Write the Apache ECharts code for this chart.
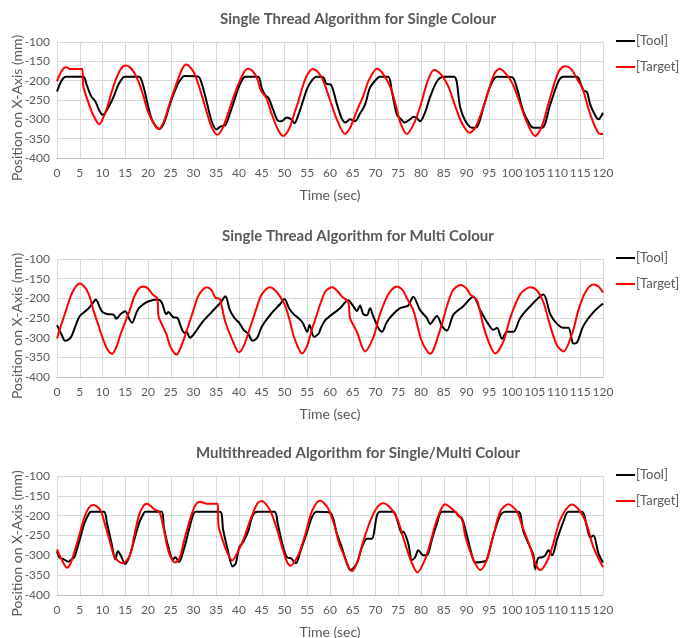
<!DOCTYPE html>
<html>
<head>
<meta charset="utf-8">
<script src="https://cdn.jsdelivr.net/npm/echarts@6/dist/echarts.min.js"></script>
<style>
  html, body { margin: 0; padding: 0; background: #fff; }
  #chart { width: 680px; height: 638px; }
</style>
</head>
<body>
<div id="chart"></div>
<script>
// panel titles
const titles = [
  'Single Thread Algorithm for Single Colour',
  'Single Thread Algorithm for Multi Colour',
  'Multithreaded Algorithm for Single/Multi Colour'
];

// [time (sec), position (mm)]
const p1Tool = [[0,-228],[1,-200],[2,-190],[5.8,-190],[6.5,-210],[7.5,-240],[8.5,-255],[9.2,-275],[10,-288],[10.5,-285],[11.5,-265],[12.5,-240],[13.5,-210],[14.5,-192],[15,-190],[18,-190],[19,-215],[20,-265],[21,-305],[22.5,-325],[23.5,-310],[25,-255],[26.5,-210],[27.5,-192],[28,-188],[31,-189],[32,-215],[33,-260],[34,-305],[35,-326],[36,-318],[37,-315],[38,-285],[39,-250],[40,-215],[41,-192],[41.5,-190],[44.2,-190],[45,-220],[45.8,-238],[46.5,-245],[47.5,-275],[48.5,-303],[49.3,-305],[50.5,-295],[51.5,-300],[52.2,-310],[53,-290],[54,-255],[55,-220],[56,-200],[57,-190],[58.5,-191],[59.2,-208],[60.2,-210],[61.5,-260],[62.6,-298],[63.4,-308],[64.4,-300],[65.5,-305],[66.6,-285],[67.7,-262],[68.8,-218],[70.3,-195],[71,-190],[72.8,-190],[73.6,-228],[74.7,-288],[75.8,-302],[76.3,-308],[77.6,-300],[78.3,-293],[79.1,-297],[79.8,-305],[80.9,-282],[82,-242],[83.5,-202],[85,-190],[87.3,-190],[88.6,-268],[89.7,-303],[91.2,-322],[92.3,-320],[93.7,-270],[95.2,-215],[96.7,-190],[100,-191],[101.1,-220],[102.5,-280],[104,-315],[104.7,-322],[106.6,-322],[108.4,-262],[110.2,-202],[111.3,-190],[114.3,-190],[115,-205],[115.7,-225],[116.5,-230],[117.2,-262],[118.3,-290],[119,-300],[120,-283]];
const p1Target = [[0,-202],[1,-175],[2,-165],[3,-170],[5.5,-170],[5.8,-215],[7,-260],[8,-290],[9.3,-313],[10,-300],[11,-270],[12,-230],[13,-195],[14,-170],[15,-161],[16,-165],[17,-180],[18,-205],[19,-240],[20,-280],[21.5,-315],[22.3,-325],[23.5,-305],[25,-250],[26.5,-200],[27.5,-170],[28.3,-158],[29.5,-168],[30.5,-190],[32,-245],[33,-285],[34,-320],[35.2,-340],[36.5,-320],[38,-270],[39.5,-220],[41,-180],[42,-169],[43,-175],[44,-195],[44.8,-225],[46,-245],[47,-280],[48.5,-325],[49.7,-343],[51,-325],[52,-290],[53,-255],[54,-215],[55,-185],[56.2,-170],[57.5,-180],[58.5,-200],[60,-250],[61.5,-300],[63.3,-338],[64.5,-320],[66,-275],[67.3,-240],[68.5,-200],[70.3,-169],[71.5,-180],[73.2,-215],[74.5,-265],[75.5,-310],[76.9,-338],[78.5,-310],[80,-260],[81.5,-200],[82.9,-172],[84.5,-185],[86,-215],[87.5,-265],[89,-310],[90.7,-335],[92,-320],[93.5,-275],[95,-220],[96.2,-180],[97.3,-169],[98.5,-180],[100,-205],[101.5,-250],[103,-300],[105.1,-343],[106.5,-320],[108,-260],[109.5,-200],[110.5,-172],[111.7,-163],[113,-170],[114.5,-200],[115.5,-220],[117,-280],[118.5,-325],[119.4,-338],[120,-338]];

const p2Tool = [[0,-268],[1,-292],[1.8,-308],[3,-300],[4,-272],[5,-245],[6,-235],[7,-225],[8,-210],[8.5,-203],[9.5,-225],[10,-235],[11,-240],[12.5,-242],[13,-252],[14,-240],[15,-233],[16,-255],[16.5,-262],[17.5,-235],[18,-225],[19,-215],[20,-208],[22,-203],[23,-210],[24,-240],[24.5,-235],[25.5,-248],[26.5,-250],[27,-265],[28,-288],[28.5,-285],[29.2,-300],[30,-292],[32,-260],[34,-235],[36,-210],[37,-195],[38,-230],[39,-250],[40,-262],[41,-280],[42,-290],[43,-308],[44,-300],[45,-272],[47,-240],[49,-215],[50,-202],[51,-225],[52,-240],[53,-250],[54,-262],[55,-285],[55.5,-268],[56.5,-298],[57.5,-290],[58,-275],[59,-255],[60,-245],[62.2,-225],[64,-205],[65.1,-220],[65.9,-232],[66.6,-218],[67.3,-240],[68.1,-243],[68.8,-225],[69.5,-245],[70.6,-275],[71.4,-285],[72.5,-260],[73.9,-240],[75.4,-225],[77.2,-218],[78.3,-196],[79.8,-230],[81.3,-250],[82,-265],[83.5,-245],[84.6,-270],[85.7,-282],[87.1,-242],[89.3,-220],[91.5,-196],[93,-230],[94.5,-260],[95.9,-280],[96.7,-275],[97.8,-303],[98.9,-285],[100.3,-285],[101.8,-250],[104,-220],[106.9,-190],[108.4,-240],[109.9,-265],[111.3,-275],[112.4,-275],[113.5,-315],[114.3,-312],[115.7,-270],[117.9,-235],[120,-213]];
const p2Target = [[0,-302],[1,-265],[2,-230],[3,-195],[4,-172],[5,-162],[6,-170],[7,-190],[8,-230],[9,-265],[10,-300],[11,-328],[12.1,-341],[13,-325],[14,-290],[15,-260],[16,-230],[17,-195],[18,-175],[19,-170],[20,-175],[21,-190],[22,-200],[22.3,-245],[23,-265],[24,-290],[25,-325],[26.3,-343],[27,-330],[28,-300],[29,-265],[30,-230],[31,-195],[32,-178],[33,-172],[34,-180],[34.8,-198],[35.8,-202],[36.2,-220],[37,-260],[38.5,-305],[40,-337],[41,-322],[42,-290],[43,-255],[44,-220],[45,-190],[46.8,-172],[48,-180],[49,-195],[50,-215],[51,-250],[52,-295],[53,-325],[53.8,-340],[55,-320],[56,-280],[57,-245],[58,-210],[59,-182],[60.5,-172],[61.5,-180],[62.6,-195],[64,-210],[64.4,-250],[65.9,-285],[67.7,-335],[69.5,-300],[71,-240],[72.8,-190],[74.7,-170],[76,-180],[76.9,-200],[78.3,-230],[80.2,-310],[82,-341],[84.2,-280],[85.7,-220],[87,-180],[88.7,-166],[90,-175],[90.8,-190],[92.3,-205],[93.7,-270],[95.2,-320],[96.3,-340],[98.1,-310],[99.6,-250],[101.8,-190],[104,-172],[105.5,-180],[106.9,-210],[108.4,-270],[109.9,-320],[111.3,-335],[113.2,-290],[114.6,-230],[116.1,-185],[117.9,-165],[119,-170],[120,-185]];

const p3Tool = [[0,-290],[0.5,-305],[1.5,-310],[2.5,-316],[3.2,-310],[3.8,-305],[5,-260],[6,-220],[7,-195],[7.5,-190],[10.3,-190],[11,-220],[12,-270],[12.8,-310],[13.4,-290],[14,-300],[15,-322],[16,-300],[17,-260],[18,-220],[19,-195],[19.5,-190],[23,-190],[23.5,-230],[24.5,-280],[25.5,-310],[26,-305],[26.8,-317],[28,-280],[29,-235],[30,-195],[30.5,-190],[35.8,-190],[36.5,-235],[37.5,-285],[38.6,-328],[39.3,-320],[40,-282],[41,-265],[42,-240],[43,-200],[44,-190],[47.8,-190],[48.5,-220],[49.5,-270],[50.5,-305],[51.5,-308],[52,-315],[52.5,-320],[53.5,-290],[55,-240],[56,-205],[57,-190],[60,-192],[61.5,-245],[62.6,-280],[63.7,-320],[64.5,-337],[65.9,-320],[67,-280],[68.1,-258],[69.2,-258],[70.3,-200],[71,-190],[73.9,-190],[75,-220],[75.8,-245],[76.1,-240],[77.2,-270],[78,-312],[78.7,-305],[79.4,-287],[80.5,-300],[81.3,-300],[82.4,-260],[83.5,-220],[84.6,-190],[87.5,-190],[88.2,-200],[89,-207],[90.1,-250],[91.2,-300],[91.9,-318],[94.1,-315],[94.5,-310],[95.9,-250],[97.4,-200],[98.5,-190],[101.4,-190],[102.5,-240],[104,-280],[104.7,-300],[105.1,-335],[105.8,-306],[106.6,-305],[107.3,-300],[108,-287],[108.8,-300],[109.9,-260],[111.3,-215],[112.4,-190],[115.4,-190],[116.5,-230],[117.2,-255],[117.9,-250],[119,-295],[120,-318]];
const p3Target = [[0,-285],[1,-310],[2.2,-331],[3,-320],[4,-285],[5,-245],[6,-205],[7,-180],[8,-173],[9.5,-185],[10.5,-220],[11.5,-260],[12.5,-300],[13.5,-315],[14.5,-320],[16,-300],[17,-250],[18,-200],[19,-175],[19.8,-170],[21.5,-185],[22.5,-190],[23.3,-225],[24.5,-290],[25.5,-315],[26,-318],[27,-305],[28,-260],[29.5,-200],[30.5,-172],[31.5,-165],[33,-170],[35.3,-170],[35.5,-225],[36.5,-265],[37.5,-295],[38.5,-313],[40,-285],[41,-260],[42.5,-210],[44,-170],[45,-163],[46.5,-180],[47.5,-205],[48.5,-240],[49.5,-280],[50.5,-315],[51.3,-326],[53,-300],[54.5,-250],[56,-190],[57.8,-162],[59.5,-180],[61,-225],[62,-270],[62.9,-295],[64.8,-340],[65.9,-320],[67.3,-265],[68.8,-215],[70.3,-180],[71.7,-169],[73.6,-185],[75,-215],[76.5,-270],[78,-320],[79.2,-343],[80.9,-310],[82,-270],[83.5,-210],[85.3,-171],[87.5,-190],[89,-210],[89.7,-250],[90.8,-290],[91.9,-320],[93,-337],[94.5,-310],[95.9,-250],[97.4,-190],[99.2,-171],[101.1,-190],[102.2,-225],[104,-280],[105.1,-320],[106.2,-337],[107.7,-315],[109.1,-270],[110.6,-210],[113.2,-172],[115,-190],[116.5,-225],[117.9,-280],[120,-330]];

const toolSeries = [p1Tool, p2Tool, p3Tool];
const targetSeries = [p1Target, p2Target, p3Target];

const gridTops = [42, 259, 476];
const gridHeights = [116, 118, 119];
const textColor = '#595959';
const font = 'Lato, "Open Sans", sans-serif';

var chart = echarts.init(document.getElementById('chart'), null, { renderer: 'canvas' });

let grids = [], xAxes = [], yAxes = [], series = [], legends = [], titleList = [];
for (let i = 0; i < 3; i++) {
  grids.push({ left: 57, top: gridTops[i], width: 546, height: gridHeights[i], outerBoundsMode: 'none' });
  titleList.push({
    text: titles[i], left: 353, textAlign: 'center', top: gridTops[i] - 35,
    textStyle: { fontFamily: font, fontSize: 15, fontWeight: 'bold', color: textColor }
  });
  xAxes.push({
    gridIndex: i, type: 'value', min: 0, max: 120, interval: 5,
    name: 'Time (sec)', nameLocation: 'middle', nameGap: 30,
    nameTextStyle: { fontFamily: font, fontSize: 14, color: textColor },
    axisLine: { lineStyle: { color: '#bfbfbf' } },
    axisTick: { show: false },
    axisLabel: { fontFamily: font, fontSize: 12, color: textColor, margin: 9 },
    splitLine: { show: true, lineStyle: { color: '#d9d9d9' } }
  });
  yAxes.push({
    gridIndex: i, type: 'value', min: -400, max: -100, interval: 50,
    name: 'Position on X-Axis (mm)', nameLocation: 'middle', nameGap: 33, nameMoveOverlap: false,
    nameTextStyle: { fontFamily: font, fontSize: 14, color: textColor, padding: [0, 16, 0, 0] },
    axisLine: { show: false },
    axisTick: { show: false },
    axisLabel: { fontFamily: font, fontSize: 12, color: textColor, margin: 7 },
    splitLine: { show: true, lineStyle: { color: '#d9d9d9' } }
  });
  series.push({
    name: '[Tool]', type: 'line', xAxisIndex: i, yAxisIndex: i,
    data: toolSeries[i], showSymbol: false, symbol: 'none', smooth: 0.3,
    lineStyle: { color: '#000000', width: 2 }, itemStyle: { color: '#000000' }
  });
  series.push({
    name: '[Target]', type: 'line', xAxisIndex: i, yAxisIndex: i,
    data: targetSeries[i], showSymbol: false, symbol: 'none', smooth: 0.3,
    lineStyle: { color: '#ff0000', width: 2 }, itemStyle: { color: '#ff0000' }
  });
  legends.push({
    data: ['[Tool]', '[Target]'], orient: 'vertical', left: 611, top: gridTops[i] - 14,
    icon: 'rect', itemWidth: 19, itemHeight: 2, itemGap: 10,
    textStyle: { fontFamily: font, fontSize: 13, color: textColor, padding: [0, 0, 0, -4], lineHeight: 16 }
  });
}

chart.setOption({
  animation: false,
  backgroundColor: '#fff',
  title: titleList,
  legend: legends,
  grid: grids,
  xAxis: xAxes,
  yAxis: yAxes,
  series
});
</script>
</body>
</html>
